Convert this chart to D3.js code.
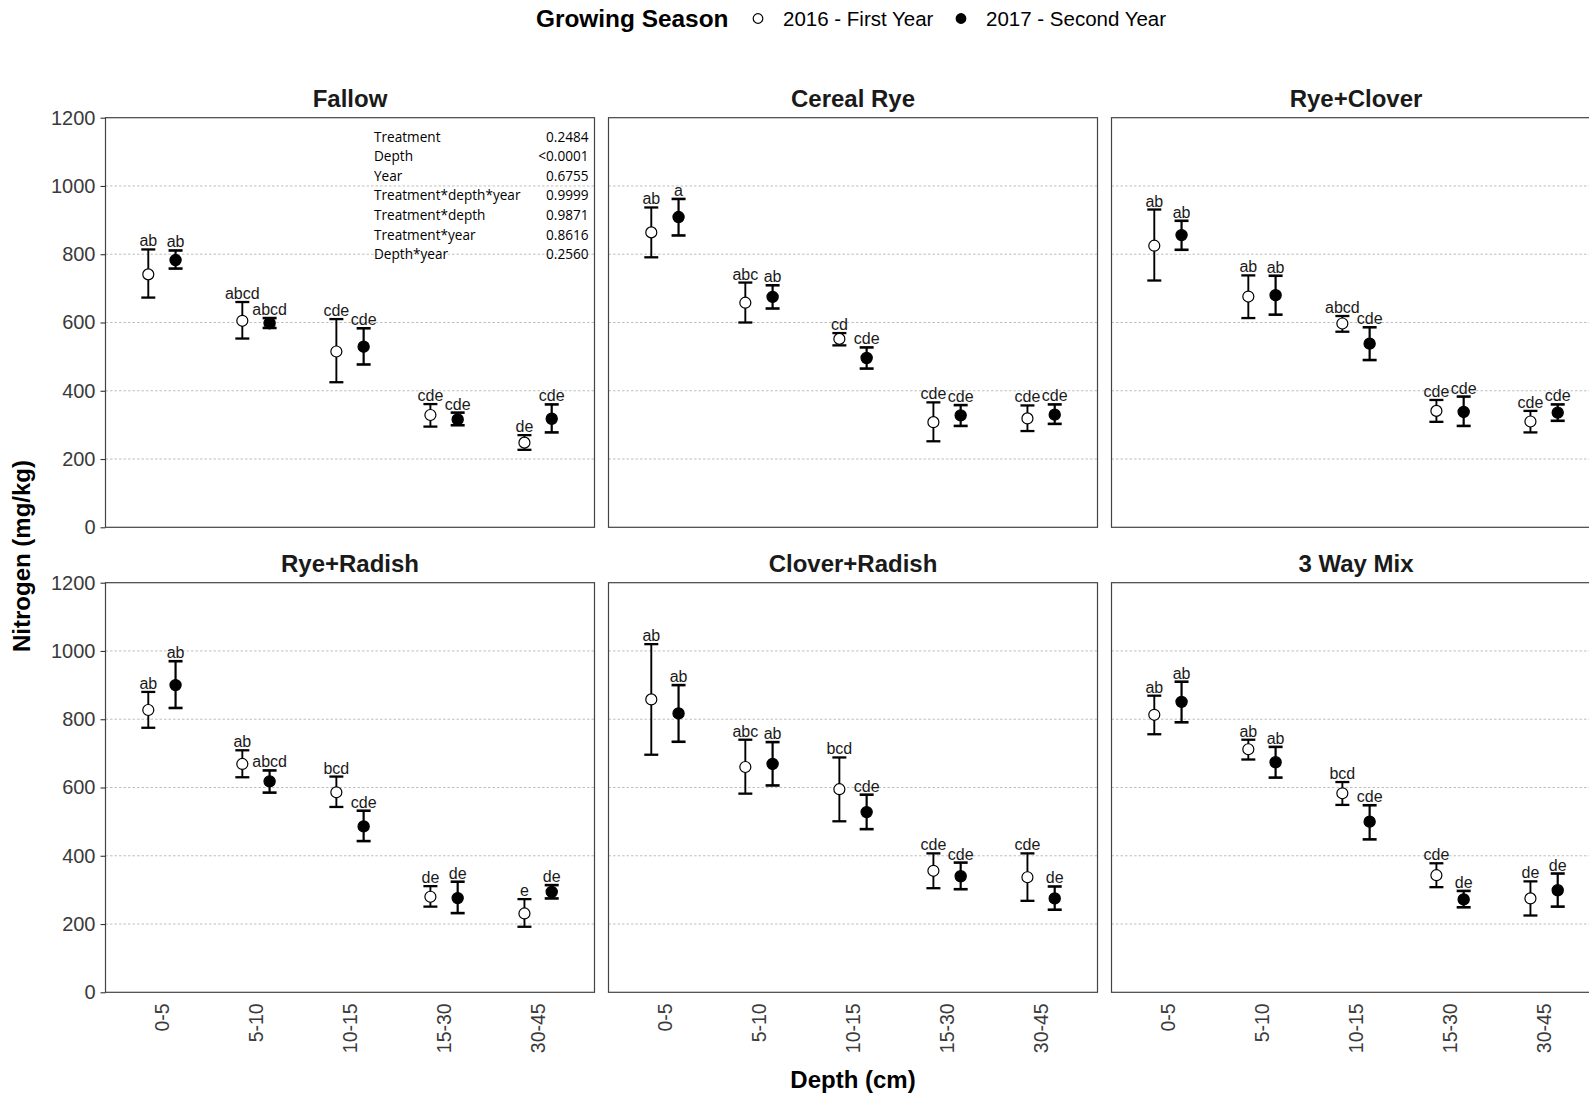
<!DOCTYPE html>
<html>
<head>
<meta charset="utf-8">
<script src="https://cdn.jsdelivr.net/npm/d3@7"></script>
<style>
  html, body { margin: 0; padding: 0; background: #fff; }
  svg { display: block; }
</style>
</head>
<body>
<svg id="chart" width="1589" height="1094"></svg>
<script>
// ---------------- DATA ----------------
const treatments = ["Fallow", "Cereal Rye", "Rye+Clover", "Rye+Radish", "Clover+Radish", "3 Way Mix"];
const depths = ["0-5", "5-10", "10-15", "15-30", "30-45"];
const seasons = ["2016 - First Year", "2017 - Second Year"];
const yTicks = [0, 200, 400, 600, 800, 1000, 1200];

// rows = treatments, columns = depths (mg/kg)
const mean2016 = [
  [741, 605, 515, 329, 248],
  [864, 658, 552, 308, 319],
  [825, 676, 597, 341, 310],
  [827, 669, 586, 280, 231],
  [858, 660, 595, 356, 337],
  [813, 712, 583, 343, 275]
];
const upper2016 = [
  [814, 660, 610, 361, 270],
  [937, 717, 569, 366, 357],
  [931, 738, 619, 373, 341],
  [880, 709, 632, 311, 273],
  [1020, 740, 688, 407, 407],
  [869, 740, 616, 378, 325]
];
const lower2016 = [
  [673, 553, 425, 295, 227],
  [791, 600, 533, 252, 282],
  [723, 613, 573, 309, 278],
  [775, 630, 543, 251, 192],
  [696, 582, 501, 305, 268],
  [756, 682, 549, 308, 225]
];
const letters2016 = [
  ["ab", "abcd", "cde", "cde", "de"],
  ["ab", "abc", "cd", "cde", "cde"],
  ["ab", "ab", "abcd", "cde", "cde"],
  ["ab", "ab", "bcd", "de", "e"],
  ["ab", "abc", "bcd", "cde", "cde"],
  ["ab", "ab", "bcd", "cde", "de"]
];
const mean2017 = [
  [783, 598, 529, 316, 318],
  [909, 675, 496, 328, 330],
  [856, 680, 538, 338, 336],
  [900, 618, 486, 276, 294],
  [817, 669, 528, 340, 275],
  [851, 674, 500, 272, 299]
];
const upper2017 = [
  [811, 613, 583, 336, 360],
  [962, 709, 527, 358, 360],
  [898, 737, 586, 383, 360],
  [970, 650, 532, 324, 314],
  [900, 733, 579, 380, 310],
  [910, 719, 548, 297, 348]
];
const lower2017 = [
  [758, 584, 477, 299, 278],
  [855, 641, 465, 297, 303],
  [813, 623, 490, 297, 312],
  [833, 585, 443, 232, 275],
  [734, 606, 478, 302, 242],
  [791, 629, 448, 249, 251]
];
const letters2017 = [
  ["ab", "abcd", "cde", "cde", "cde"],
  ["a", "ab", "cde", "cde", "cde"],
  ["ab", "ab", "cde", "cde", "cde"],
  ["ab", "abcd", "cde", "de", "de"],
  ["ab", "ab", "cde", "cde", "de"],
  ["ab", "ab", "cde", "de", "de"]
];

const statTerms = ["Treatment", "Depth", "Year", "Treatment*depth*year", "Treatment*depth", "Treatment*year", "Depth*year"];
const statPvalues = ["0.2484", "<0.0001", "0.6755", "0.9999", "0.9871", "0.8616", "0.2560"];

// ---------------- LAYOUT ----------------
const svg = d3.select("#chart");
const FONT = "'Liberation Sans', Arial, Helvetica, sans-serif";
const TFONT = "'Open Sans', 'Noto Sans', sans-serif";
const pw = 489, ph = 409.6, gap = 14;
const colLeft = [105.5, 105.5 + pw + gap, 105.5 + 2 * (pw + gap)];
const rowTop = [117.7, 582.7];

const x = d3.scalePoint().domain(depths).range([0, pw]).padding(0.6);
const y = d3.scaleLinear().domain([0, 1200]).range([ph, 0]);
const dodge = x.step() * 0.145;
const capHalf = 7;

const seriesDefs = [
  { name: seasons[0], mean: mean2016, up: upper2016, lo: lower2016, lab: letters2016, off: -dodge, fill: "#fff", sw: 1.2, ew: 1.9, r: 5.5 },
  { name: seasons[1], mean: mean2017, up: upper2017, lo: lower2017, lab: letters2017, off: dodge, fill: "#000", sw: 1.2, ew: 2.2, r: 5.6 }
];

treatments.forEach((t, ti) => {
  const col = ti % 3, row = Math.floor(ti / 3);
  const g = svg.append("g").attr("transform", `translate(${colLeft[col]},${rowTop[row]})`);

  // grid
  g.append("g").selectAll("line").data(yTicks.filter(v => v > 0 && v < 1200)).join("line")
    .attr("x1", 0).attr("x2", pw)
    .attr("y1", d => y(d)).attr("y2", d => y(d))
    .attr("stroke", "#b8b8b8").attr("stroke-width", 0.9).attr("stroke-dasharray", "2.5,2");

  // title
  g.append("text").attr("x", pw / 2).attr("y", -11)
    .attr("text-anchor", "middle").attr("font-family", FONT).attr("font-weight", "bold")
    .attr("font-size", 24).attr("fill", "#1a1a1a").text(t);

  // series
  seriesDefs.forEach(s => {
    const rows = depths.map((d, di) => ({ d, m: s.mean[ti][di], u: s.up[ti][di], l: s.lo[ti][di], lab: s.lab[ti][di] }));
    const sg = g.append("g");
    sg.selectAll("line.v").data(rows).join("line").attr("class", "v")
      .attr("x1", r => x(r.d) + s.off).attr("x2", r => x(r.d) + s.off)
      .attr("y1", r => y(r.u)).attr("y2", r => y(r.l))
      .attr("stroke", "#000").attr("stroke-width", s.ew);
    ["u", "l"].forEach(k => {
      sg.selectAll("line.c" + k).data(rows).join("line").attr("class", "c" + k)
        .attr("x1", r => x(r.d) + s.off - capHalf).attr("x2", r => x(r.d) + s.off + capHalf)
        .attr("y1", r => y(r[k])).attr("y2", r => y(r[k]))
        .attr("stroke", "#000").attr("stroke-width", s.ew + 0.4);
    });
    sg.selectAll("circle").data(rows).join("circle")
      .attr("cx", r => x(r.d) + s.off).attr("cy", r => y(r.m))
      .attr("r", s.r)
      .attr("fill", s.fill).attr("stroke", "#000").attr("stroke-width", s.sw);
    sg.selectAll("text").data(rows).join("text")
      .attr("x", r => x(r.d) + s.off).attr("y", r => y(r.u) - 3)
      .attr("text-anchor", "middle").attr("font-family", FONT).attr("font-size", 16)
      .attr("fill", "#1a1a1a").text(r => r.lab);
  });

  // border
  g.append("rect").attr("x", 0).attr("y", 0).attr("width", pw).attr("height", ph)
    .attr("fill", "none").attr("stroke", "#444").attr("stroke-width", 1.2);

  // y axis
  if (col === 0) {
    const ya = g.append("g").call(d3.axisLeft(y).tickValues(yTicks).tickFormat(d3.format("d")).tickSize(5).tickPadding(5));
    ya.attr("font-family", FONT);
    ya.select(".domain").remove();
    ya.selectAll(".tick line").attr("stroke", "#333").attr("stroke-width", 1.1);
    ya.selectAll(".tick text").attr("font-family", FONT).attr("font-size", 20).attr("fill", "#3a3a3a");
  }
  // x axis
  if (row === 1) {
    const xa = g.append("g").attr("transform", `translate(0,${ph})`)
      .call(d3.axisBottom(x).tickSize(0).tickPadding(0));
    xa.attr("font-family", FONT);
    xa.select(".domain").remove();
    xa.selectAll(".tick text")
      .attr("font-family", FONT).attr("font-size", 19.5).attr("fill", "#3a3a3a")
      .attr("transform", "rotate(-90)")
      .attr("text-anchor", "end").attr("dy", "0.35em").attr("x", -11).attr("y", 0);
  }

  // stats table in first panel
  if (ti === 0) {
    const tg = g.append("g");
    const rowY = d3.scaleLinear().domain([0, 1]).range([24, 24 + 19.6]);
    tg.selectAll("text.term").data(statTerms).join("text").attr("class", "term")
      .attr("x", 374 - colLeft[0]).attr("y", (d, i) => rowY(i))
      .attr("font-family", TFONT).attr("font-size", 13.6)
      .attr("fill", "#000").text(d => d);
    tg.selectAll("text.p").data(statPvalues).join("text").attr("class", "p")
      .attr("x", 588.5 - colLeft[0]).attr("y", (d, i) => rowY(i)).attr("text-anchor", "end")
      .attr("font-family", TFONT).attr("font-size", 13.6)
      .attr("fill", "#000").text(d => d);
  }
});

// axis titles
svg.append("text").attr("transform", "translate(30,556) rotate(-90)")
  .attr("text-anchor", "middle").attr("font-family", FONT).attr("font-weight", "bold")
  .attr("font-size", 24).attr("fill", "#000").text("Nitrogen (mg/kg)");
svg.append("text").attr("x", colLeft[1] + pw / 2).attr("y", 1088)
  .attr("text-anchor", "middle").attr("font-family", FONT).attr("font-weight", "bold")
  .attr("font-size", 24).attr("fill", "#000").text("Depth (cm)");

// legend
const lg = svg.append("g");
lg.append("text").attr("x", 536).attr("y", 27).attr("font-family", FONT).attr("font-weight", "bold")
  .attr("font-size", 24.4).attr("fill", "#000").text("Growing Season");
const legX = [758, 961];
seasons.forEach((s, i) => {
  lg.append("circle").attr("cx", legX[i]).attr("cy", 18.5).attr("r", 4.8)
    .attr("fill", i === 0 ? "#fff" : "#000").attr("stroke", "#000").attr("stroke-width", 1.2);
  lg.append("text").attr("x", legX[i] + 25).attr("y", 26).attr("font-family", FONT)
    .attr("font-size", 20.5).attr("fill", "#000").text(s);
});
</script>
</body>
</html>
